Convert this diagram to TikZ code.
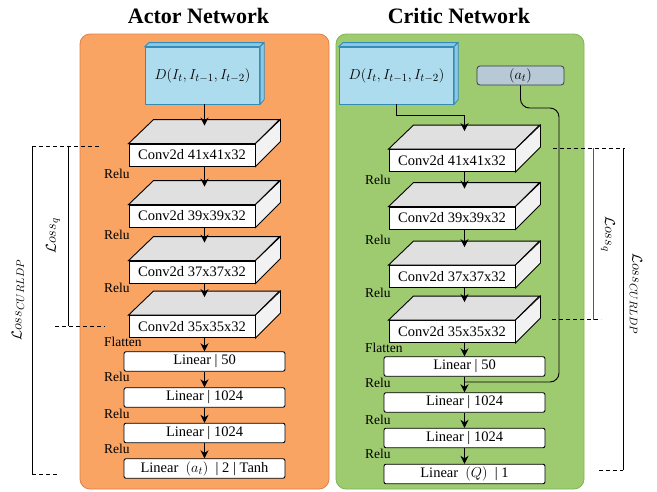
\documentclass[tikz,border=0pt]{standalone}
\usepackage{fontspec}
\setmainfont{Liberation Serif}
\usetikzlibrary{arrows.meta,calc}
\definecolor{orangeF}{RGB}{250,164,99}
\definecolor{orangeB}{RGB}{226,125,72}
\definecolor{greenF}{RGB}{158,202,112}
\definecolor{greenB}{RGB}{126,180,84}
\definecolor{blueF}{RGB}{173,220,238}
\definecolor{blueB}{RGB}{52,140,185}
\definecolor{blueD}{RGB}{140,200,228}
\definecolor{atF}{RGB}{184,201,214}
\definecolor{atB}{RGB}{50,60,70}
\definecolor{topgray}{RGB}{224,224,224}
\definecolor{sidegray}{RGB}{242,242,242}
\newcommand\convblk[3]{%
  \node[front] (#1) at (#2) {#3};
  \draw[edge, fill=topgray] (#1.north west) -- ++(25,-24) -- ++(126,0) -- (#1.north east) -- cycle;
  \draw[edge, fill=sidegray] (#1.north east) -- ++(25,-24) -- ++(0,22) -- (#1.south east) -- cycle;
  \coordinate (#1t) at ($(#1.north)+(12.5,-18)$);
}
\newcommand\inblk[2]{%
  \node[inbox] (#1) at (#2) {$D(I_t, I_{t-1}, I_{t-2})$};
  \draw[blueB, line width=0.8pt, fill=blueD] (#1.north west) -- ++(4,-4) -- ++(114.5,0) -- (#1.north east) -- cycle;
  \draw[blueB, line width=0.8pt, fill=blueD] (#1.north east) -- ++(4,-4) -- ++(0,57) -- (#1.south east) -- cycle;
}
\begin{document}
\begin{tikzpicture}[x=1pt,y=-1pt,
  edge/.style={draw=black, line width=0.9pt},
  front/.style={draw=black, line width=0.9pt, fill=white, minimum width=126pt, minimum height=22pt, inner sep=0pt, font=\fontsize{14.5}{16}\selectfont},
  lin/.style={draw=black, line width=0.9pt, fill=white, rounded corners=2pt, minimum width=161pt, minimum height=19.5pt, inner sep=0pt, font=\fontsize{14.5}{16}\selectfont},
  inbox/.style={draw=blueB, line width=0.8pt, fill=blueF, minimum width=114.5pt, minimum height=57pt, inner sep=0pt, font=\fontsize{15.5}{17}\selectfont},
  lbl/.style={anchor=west, inner sep=0pt, font=\fontsize{13.5}{15}\selectfont},
  ttl/.style={inner sep=0pt, font=\fontsize{22}{24}\selectfont\bfseries},
  arr/.style={-{Stealth[length=8pt,width=8pt]}, line width=0.9pt},
  brk/.style={line width=0.8pt},
  dsh/.style={line width=0.8pt, dashed, dash pattern=on 4pt off 3pt},
  loss/.style={inner sep=0pt, font=\fontsize{15.5}{17}\selectfont}
]
\useasboundingbox (0,0) rectangle (657,491);
% panels
\draw[draw=orangeB, fill=orangeF, line width=0.8pt, rounded corners=10pt] (80,34) rectangle (329,489);
\draw[draw=greenB, fill=greenF, line width=0.8pt, rounded corners=10pt] (336,34) rectangle (584,489);
% titles
\node[ttl] (ta) at (198.5,16) {Actor Network};
\node[ttl] (tc) at (459,16) {Critic Network};

% ===== Actor =====
\inblk{ai}{202.5,75.5}
\convblk{a1}{192,155}{Conv2d 41x41x32}
\convblk{a2}{192,216}{Conv2d 39x39x32}
\convblk{a3}{192,272}{Conv2d 37x37x32}
\convblk{a4}{192,326.5}{Conv2d 35x35x32}
\node[lin] (al1) at (204.5,361.5) {Linear | 50};
\node[lin] (al2) at (204.5,397.5) {Linear | 1024};
\node[lin] (al3) at (204.5,433) {Linear | 1024};
\node[lin] (al4) at (204.5,468.5) {Linear \ {\fontsize{15.5}{17}\selectfont$(a_t)$} \ | 2 | Tanh};
\draw[arr] (a1t |- ai.south) -- (a1t);
\draw[arr] (a1t |- a1.south) -- (a2t);
\draw[arr] (a2t |- a2.south) -- (a3t);
\draw[arr] (a3t |- a3.south) -- (a4t);
\draw[arr] (al1.north |- a4.south) -- (al1.north);
\draw[arr] (al1.south) -- (al2.north);
\draw[arr] (al2.south) -- (al3.north);
\draw[arr] (al3.south) -- (al4.north);
\node[lbl] (ar1) at (104,174) {Relu};
\node[lbl] (ar2) at (104,235) {Relu};
\node[lbl] (ar3) at (104,288) {Relu};
\node[lbl] (af) at (104,342) {Flatten};
\node[lbl] (ar4) at (104,377) {Relu};
\node[lbl] (ar5) at (104,414) {Relu};
\node[lbl] (ar6) at (104,449) {Relu};

% ===== Critic =====
\inblk{ci}{396.5,75.5}
\node[draw=atB, line width=0.8pt, fill=atF, rounded corners=3pt, minimum width=87pt, minimum height=19pt, inner sep=0pt, font=\fontsize{15.5}{17}\selectfont] (at) at (520.5,75.5) {$(a_t)$};
\convblk{c1}{452,160.5}{Conv2d 41x41x32}
\convblk{c2}{452,218}{Conv2d 39x39x32}
\convblk{c3}{452,276.5}{Conv2d 37x37x32}
\convblk{c4}{452,331.5}{Conv2d 35x35x32}
\node[lin] (cl1) at (464.5,366.5) {Linear | 50};
\node[lin] (cl2) at (464.5,402.5) {Linear | 1024};
\node[lin] (cl3) at (464.5,438) {Linear | 1024};
\node[lin] (cl4) at (464.5,474) {Linear \ {\fontsize{15.5}{17}\selectfont$(Q)$} \ | 1};
\draw[arr] (ci.south) -- ++(0,11) -| (c1t);
\draw[arr] (c1t |- c1.south) -- (c2t);
\draw[arr] (c2t |- c2.south) -- (c3t);
\draw[arr] (c3t |- c3.south) -- (c4t);
\draw[arr] (cl1.north |- c4.south) -- (cl1.north);
\coordinate (cj) at (464.5,382);
\draw[line width=0.9pt, rounded corners=9pt] (at.south) |- (559,108) |- (cj);
\draw[arr] (cl1.south) -- (cl2.north);
\draw[arr] (cl2.south) -- (cl3.north);
\draw[arr] (cl3.south) -- (cl4.north);
\node[lbl] (cr1) at (365,180) {Relu};
\node[lbl] (cr2) at (365,240) {Relu};
\node[lbl] (cr3) at (365,293) {Relu};
\node[lbl] (cf) at (365,348) {Flatten};
\node[lbl] (cr4) at (365,383) {Relu};
\node[lbl] (cr5) at (365,420) {Relu};
\node[lbl] (cr6) at (365,454) {Relu};

% ===== Loss brackets left =====
\draw[dsh] (32,146) -- (100,146);
\draw[brk] (32,146) -- (32,474);
\draw[brk] (68,146) -- (68,326);
\draw[dsh] (55,326) -- (105,326);
\draw[dsh] (32,474) -- (57,474);
\node[loss, rotate=90] (lq1) at (53,236) {$\mathcal{L}oss_q$};
\node[loss, rotate=90] (lc1) at (18,300) {$\mathcal{L}oss_{CURLDP}$};

% ===== Loss brackets right =====
\draw[dsh] (553,148) -- (625,148);
\draw[brk, gray!70!black] (593,148) -- (593,320);
\draw[dsh] (552,319) -- (601,319);
\draw[brk] (623,148) -- (623,470);
\draw[dsh] (599,470) -- (623,470);
\node[loss, rotate=-90] (lq2) at (608,234) {$\mathcal{L}oss_q$};
\node[loss, rotate=-90] (lc2) at (636,294) {$\mathcal{L}oss_{CURLDP}$};
\end{tikzpicture}
\end{document}
